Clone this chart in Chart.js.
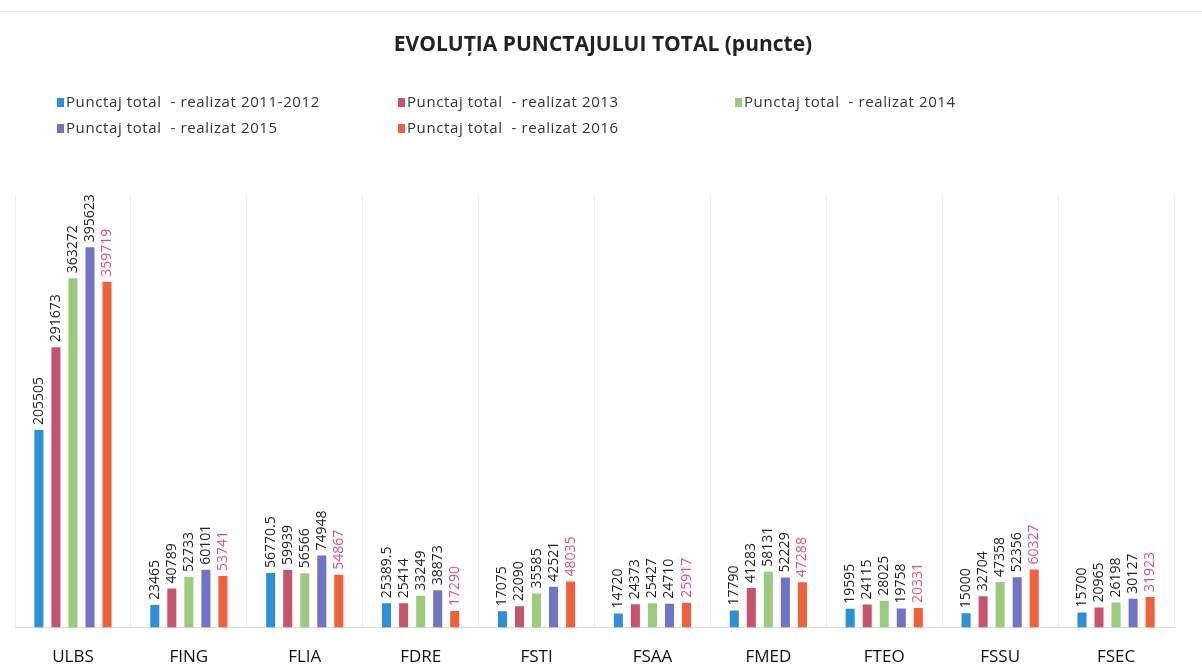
<!DOCTYPE html>
<html>
<head>
<meta charset="utf-8">
<script src="https://cdn.jsdelivr.net/npm/chart.js@4/dist/chart.umd.min.js"></script>
<style>
html,body{margin:0;padding:0;background:#fff;overflow:hidden;}
#wrap{position:relative;width:1202px;height:666px;}
</style>
</head>
<body>
<div id="wrap"><canvas id="c" width="1202" height="666"></canvas></div>
<script>
const categories = ["ULBS","FING","FLIA","FDRE","FSTI","FSAA","FMED","FTEO","FSSU","FSEC"];
const seriesNames = [
  "Punctaj total  - realizat 2011-2012",
  "Punctaj total  - realizat 2013",
  "Punctaj total  - realizat 2014",
  "Punctaj total  - realizat 2015",
  "Punctaj total  - realizat 2016"
];
const v2011_2012 = [205505, 23465, 56770.5, 25389.5, 17075, 14720, 17790, 19595, 15000, 15700];
const v2013 = [291673, 40789, 59939, 25414, 22090, 24373, 41283, 24115, 32704, 20965];
const v2014 = [363272, 52733, 56566, 33249, 35585, 25427, 58131, 28025, 47358, 26198];
const v2015 = [395623, 60101, 74948, 38873, 42521, 24710, 52229, 19758, 52356, 30127];
const v2016 = [359719, 53741, 54867, 17290, 48035, 25917, 47288, 20331, 60327, 31923];
const titleText = "EVOLUȚIA PUNCTAJULUI TOTAL (puncte)";

const colors = ["#2b8fd9", "#c9536d", "#9ccb7d", "#6f74c6", "#f0603a"];
const labelColors = ["#222", "#222", "#222", "#222", "#e0507c"];
const FONT = "'Open Sans', sans-serif";

const labelPlugin = {
  id: "barLabels",
  afterDatasetsDraw(chart) {
    const ctx = chart.ctx;
    ctx.save();
    ctx.font = "14px " + FONT;
    ctx.textAlign = "left";
    ctx.textBaseline = "middle";
    chart.data.datasets.forEach((ds, i) => {
      const meta = chart.getDatasetMeta(i);
      meta.data.forEach((bar, j) => {
        const v = ds.data[j];
        ctx.save();
        ctx.translate(bar.x, bar.y - 5);
        ctx.rotate(-Math.PI / 2);
        ctx.fillStyle = labelColors[i];
        ctx.fillText(String(v), 0, 0);
        ctx.restore();
      });
    });
    ctx.restore();
  }
};

const headerPlugin = {
  id: "header",
  afterDraw(chart) {
    const ctx = chart.ctx;
    ctx.save();
    ctx.fillStyle = "#222";
    ctx.font = "bold 21px " + FONT;
    ctx.textAlign = "center";
    ctx.textBaseline = "middle";
    ctx.fillText(titleText, 603, 45);
    ctx.font = "15px " + FONT;
    ctx.letterSpacing = "0.6px";
    ctx.textAlign = "left";
    const pos = [[57,103],[398,103],[735,103],[57,129],[398,129]];
    chart.data.datasets.forEach((ds, i) => {
      const [x, y] = pos[i];
      ctx.fillStyle = colors[i];
      ctx.fillRect(x, y - 5, 7, 9);
      ctx.fillStyle = "#333";
      ctx.fillText(ds.label, x + 9, y);
    });
    ctx.letterSpacing = "0px";
    ctx.strokeStyle = "#e4e4e4";
    ctx.lineWidth = 1;
    ctx.beginPath();
    ctx.moveTo(0, 11.5); ctx.lineTo(1202, 11.5);
    ctx.stroke();
    ctx.restore();
  }
};

const data = {
  labels: categories,
  datasets: [v2011_2012, v2013, v2014, v2015, v2016].map((d, i) => ({
    label: seriesNames[i],
    data: d,
    backgroundColor: colors[i],
    borderWidth: 0,
    categoryPercentage: 0.735,
    barPercentage: 0.53
  }))
};

new Chart(document.getElementById("c"), {
  type: "bar",
  data,
  options: {
    responsive: false,
    animation: false,
    events: [],
    layout: { padding: { top: 195, left: 15, right: 28, bottom: -20 } },
    plugins: {
      legend: { display: false },
      title: { display: false },
      tooltip: { enabled: false }
    },
    scales: {
      x: {
        grid: { display: true, color: "#f0f0f0", drawTicks: false, offset: true },
        border: { color: "#d9d9d9" },
        ticks: { color: "#111", font: { family: FONT, size: 17 }, padding: 19 }
      },
      y: {
        display: false,
        min: 0,
        max: 450000
      }
    }
  },
  plugins: [labelPlugin, headerPlugin]
});
</script>
</body>
</html>
